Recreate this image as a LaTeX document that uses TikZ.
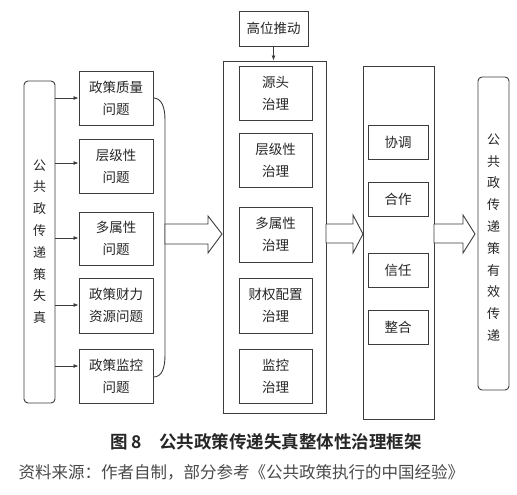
\documentclass[tikz,border=0pt]{standalone}
\usepackage{fontspec}
\setmainfont{Noto Sans CJK SC}
\newfontfamily\cjkbold[BoldFont={* Bold}]{Noto Sans CJK SC}
\usetikzlibrary{arrows.meta,calc}
\definecolor{ln}{HTML}{3C3C3C}
\definecolor{tx}{HTML}{262626}
\definecolor{srcc}{HTML}{4A4A4A}
\tikzset{
  bx/.style={draw=ln,line width=0.9pt,inner sep=0pt,align=center,text=tx,
    font=\fontsize{13.5}{22}\selectfont},
  rbx/.style={bx,rounded corners=4pt},
  vtext/.style={font=\fontsize{13}{21.8}\selectfont},
  arr/.style={draw=ln,line width=0.8pt,-{Latex[length=5pt,width=4pt]}},
  hollow/.style={draw=ln,line width=0.9pt,fill=white,line join=miter},
}
\begin{document}
\begin{tikzpicture}[x=1pt,y=-1pt]
\useasboundingbox (0,0) rectangle (517,495);
% left column
\node[rbx,minimum width=31pt,minimum height=322pt] (L) at (39.5,242) {};
\node[vtext,text=tx,align=center] (Lt) at (39.5,241.5) {公\\共\\政\\传\\递\\策\\失\\真};
\node[bx,minimum width=74pt,minimum height=54pt] (P1) at (116,98) {政策质量\\问题};
\node[bx,minimum width=74pt,minimum height=54pt] (P2) at (116,166) {层级性\\问题};
\node[bx,minimum width=74pt,minimum height=53pt] (P3) at (116,238.5) {多属性\\问题};
\node[bx,minimum width=74pt,minimum height=55pt] (P4) at (116,305.5) {政策财力\\资源问题};
\node[bx,minimum width=74pt,minimum height=54pt] (P5) at (116,376) {政策监控\\问题};
\draw[arr] (L.east |- 0,98) -- (P1.west |- 0,98);
\draw[arr] (L.east |- 0,163) -- (P2.west |- 0,163);
\draw[arr] (L.east |- 0,238) -- (P3.west |- 0,238);
\draw[arr] (L.east |- 0,305) -- (P4.west |- 0,305);
\draw[arr] (L.east |- 0,366) -- (P5.west |- 0,366);
% brace
\draw[ln,line width=0.9pt] (P1.east |- 0,98) .. controls (162,98) and (165,108) .. (165,120)
  -- (165,355) .. controls (165,368) and (162,377) .. (P5.east |- 0,377);
% hollow arrow 1
\draw[hollow] (165,224) -- (208,224) -- (208,216) -- (222,234) -- (208,253) -- (208,244) -- (165,244) -- cycle;
% middle column
\node[bx,minimum width=103pt,minimum height=352pt] (M) at (274.5,237) {};
\node[bx,minimum width=69pt,minimum height=35pt] (H) at (273.5,28.5) {高位推动};
\draw[arr] (H.south) -- (H.south |- M.north);
\node[bx,minimum width=73pt,minimum height=54pt] (G1) at (275.5,93) {源头\\治理};
\node[bx,minimum width=73pt,minimum height=54pt] (G2) at (275.5,160) {层级性\\治理};
\node[bx,minimum width=73pt,minimum height=55pt] (G3) at (275.5,234.5) {多属性\\治理};
\node[bx,minimum width=73pt,minimum height=55pt] (G4) at (275.5,305.5) {财权配置\\治理};
\node[bx,minimum width=73pt,minimum height=54pt] (G5) at (275.5,376) {监控\\治理};
% hollow arrow 2
\draw[hollow] (326,224) -- (353,224) -- (353,215) -- (363,234) -- (353,253) -- (353,243) -- (326,243) -- cycle;
% third column
\node[bx,minimum width=71pt,minimum height=353pt] (C) at (398.5,242.5) {};
\node[bx,minimum width=60pt,minimum height=34pt] (K1) at (398,142) {协调};
\node[bx,minimum width=60pt,minimum height=34pt] (K2) at (398,199) {合作};
\node[bx,minimum width=60pt,minimum height=34pt] (K3) at (398,270.5) {信任};
\node[bx,minimum width=60pt,minimum height=34pt] (K4) at (398,327.5) {整合};
% hollow arrow 3
\draw[hollow] (434,224) -- (463,224) -- (463,215) -- (475,234) -- (463,253) -- (463,243) -- (434,243) -- cycle;
% right column
\node[rbx,minimum width=31pt,minimum height=313pt] (R) at (493.5,233.5) {};
\node[vtext,text=tx,align=center] (Rt) at (493.5,237.5) {公\\共\\政\\传\\递\\策\\有\\效\\传\\递};
% caption
\node[text=tx,font=\cjkbold\bfseries\fontsize{17.5}{20}\selectfont] (cap) at (266,442) {图 8\hspace{1em}公共政策传递失真整体性治理框架};
\node[text=srcc,anchor=west,font=\fontsize{16.5}{20}\selectfont] (src) at (15,472) {资料来源：作者自制，部分参考《公共政策执行的中国经验》};
\end{tikzpicture}
\end{document}
